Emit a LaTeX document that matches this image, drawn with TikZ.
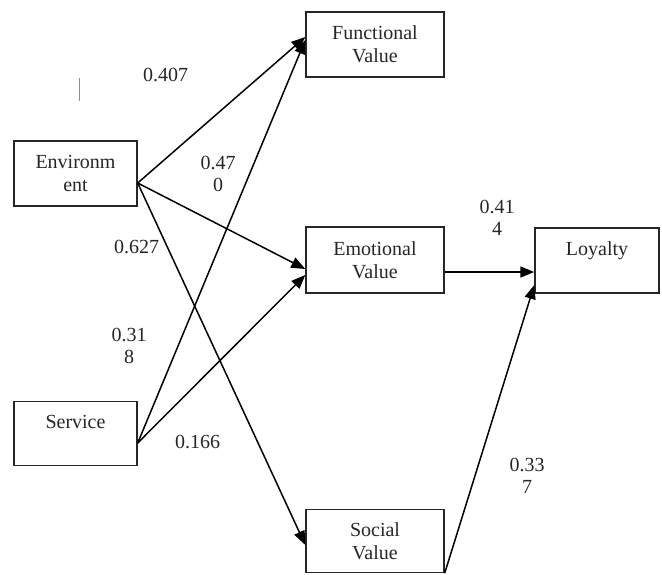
\documentclass[tikz,border=0pt]{standalone}
\usepackage{fontspec}
\setmainfont{Liberation Serif}
\usetikzlibrary{arrows.meta}
\begin{document}
\begin{tikzpicture}[x=1pt,y=-1pt,
  box/.style={draw=black!85, line width=1.4pt, inner sep=0pt, align=center,
    font=\fontsize{20}{23}\selectfont, text=black!85},
  lbl/.style={align=center, inner sep=0pt, font=\fontsize{20}{22.5}\selectfont, text=black!85},
  arr/.style={line width=1.5pt, -{Triangle[length=14pt,width=11pt]}},
  lin/.style={line width=1.5pt}]
\useasboundingbox (0,0) rectangle (662,574);
% boxes
\node[box, minimum width=123pt, minimum height=65pt] (env) at (75.5,173.5) {Environm\\ent};
\node[box, minimum width=138pt, minimum height=65pt] (func) at (375,44.5) {Functional\\Value};
\node[box, minimum width=138pt, minimum height=66pt] (emo) at (375,260) {Emotional\\Value};
\node[box, minimum width=124pt, minimum height=65pt] (loy) at (597,260.5) {Loyalty\\\mbox{}};
\node[box, minimum width=123pt, minimum height=64pt] (serv) at (75.5,433.5) {Service\\\mbox{}};
\node[box, minimum width=138pt, minimum height=63pt] (soc) at (375,541) {Social\\Value};
% anchor points
\coordinate (envS) at ([yshift=-9.5pt]env.east);
\coordinate (servS) at ([yshift=-9.5pt]serv.east);
\coordinate (funcA) at ([yshift=7.5pt]func.west);
\coordinate (funcB) at ([yshift=4.5pt]func.west);
\coordinate (emoA) at ([yshift=-9pt]emo.west);
\coordinate (emoB) at ([yshift=-15pt]emo.west);
\coordinate (socA) at ([yshift=-4pt]soc.west);
\coordinate (emoS) at ([yshift=-12pt]emo.east);
\coordinate (loyA) at ([yshift=-11.5pt]loy.west);
\coordinate (loyB) at ([yshift=-24.5pt]loy.west);
% connectors
\draw[arr] (envS) -- (funcA);
\draw[arr] (envS) -- (emoA);
\draw[arr] (envS) -- (socA);
\draw[arr] (servS) -- (funcB);
\draw[arr] (servS) -- (emoB);
\draw[arr] (emoS) -- (loyA);
\draw[arr] (soc.south east) -- (loyB);
% labels
\node[lbl] (l1) at (165.5,75) {0.407};
\node[lbl] (l2) at (218,174) {0.47\\0};
\node[lbl] (l3) at (136.5,247) {0.627};
\node[lbl] (l4) at (129,346) {0.31\\8};
\node[lbl] (l5) at (197.5,442) {0.166};
\node[lbl] (l6) at (497,218) {0.41\\4};
\node[lbl] (l7) at (527,476) {0.33\\7};
% small stray mark
\coordinate (m1) at (79.5,78);
\coordinate (m2) at (79.5,101);
\draw[line width=0.8pt, black!45] (m1) -- (m2);
\end{tikzpicture}
\end{document}
